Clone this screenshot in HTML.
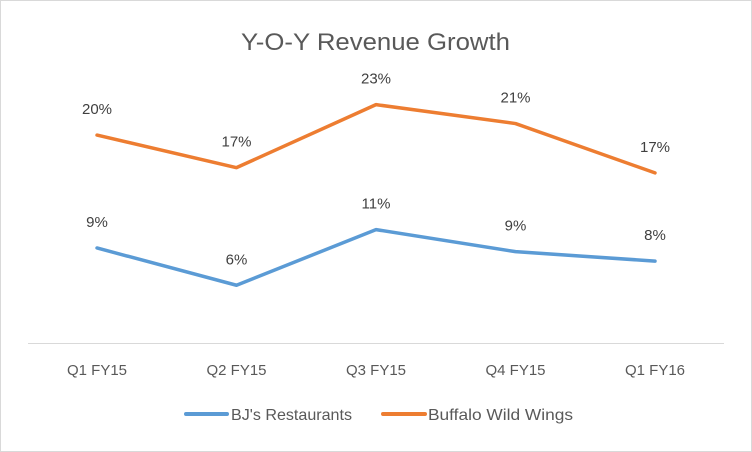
<!DOCTYPE html>
<html><head><meta charset="utf-8"><style>
body{margin:0;background:#fff}
svg{display:block;font-family:"Liberation Sans",Arial,sans-serif}
</style></head><body>
<svg id="chart" width="752" height="452">
<rect x="0.5" y="0.5" width="751" height="451" fill="#fff" stroke="#d9d9d9"/>
<text x="241" y="50" font-size="24" fill="#595959" textLength="269" lengthAdjust="spacingAndGlyphs">Y-O-Y Revenue Growth</text>
<line x1="28" y1="343.5" x2="724" y2="343.5" stroke="#d9d9d9"/>
<g id="marks"></g>
<g>
<line x1="186" y1="414" x2="227" y2="414" stroke="#5b9bd5" stroke-width="4" stroke-linecap="round"/>
<text x="231" y="420" font-size="16" fill="#595959" textLength="121" lengthAdjust="spacingAndGlyphs">BJ's Restaurants</text>
<line x1="383" y1="414" x2="425" y2="414" stroke="#ed7d31" stroke-width="4" stroke-linecap="round"/>
<text x="428" y="420" font-size="16" fill="#595959" textLength="145" lengthAdjust="spacingAndGlyphs">Buffalo Wild Wings</text>
</g>
</svg>
<script>
const categories=["Q1 FY15","Q2 FY15","Q3 FY15","Q4 FY15","Q1 FY16"];
const bjsValues=[9.05,5.5,10.8,8.7,7.8];
const bwwValues=[19.8,16.7,22.7,20.9,16.2];
const bjsLabels=["9%","6%","11%","9%","8%"];
const bwwLabels=["20%","17%","23%","21%","17%"];
const NS="http://www.w3.org/2000/svg";
const g=document.getElementById('marks');
const xScale=i=>97+i*139.5;
const yScale=v=>343-v*10.5;
function mk(t,a){const e=document.createElementNS(NS,t);for(const k in a)e.setAttribute(k,a[k]);return e;}
categories.forEach((c,i)=>{
  const t=mk('text',{x:xScale(i),y:375,'text-anchor':'middle','font-size':15,fill:'#595959',textLength:60,lengthAdjust:'spacingAndGlyphs'});
  t.textContent=c;
  
  
  g.appendChild(t);
});
function series(vals,labels,color,name){
  const p=mk('polyline',{points:vals.map((v,i)=>xScale(i)+','+yScale(v)).join(' '),fill:'none',stroke:color,'stroke-width':3.5,'stroke-linejoin':'round','stroke-linecap':'round'});
  
  
  g.appendChild(p);
  vals.forEach((v,i)=>{
    const t=mk('text',{x:xScale(i),y:yScale(v)-21,'text-anchor':'middle','font-size':15,fill:'#404040'});
    t.textContent=labels[i];
    
    
    g.appendChild(t);
  });
}
series(bjsValues,bjsLabels,'#5b9bd5','bjs');
series(bwwValues,bwwLabels,'#ed7d31','bww');
</script>
</body></html>
